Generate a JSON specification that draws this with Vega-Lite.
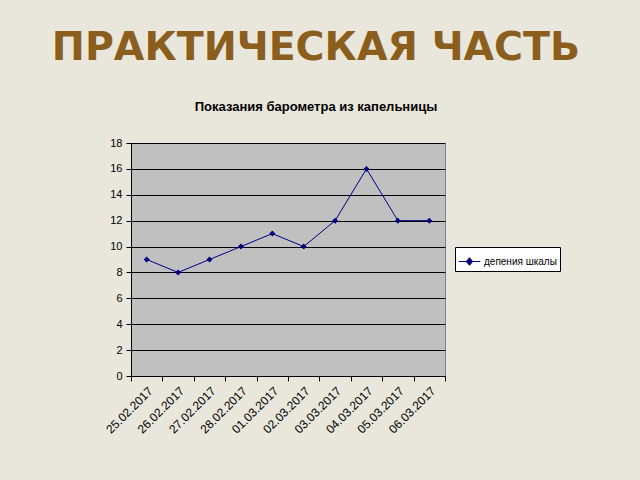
{
  "$schema": "https://vega.github.io/schema/vega-lite/v6.json",
  "autosize": {"type": "none"},
  "width": 314,
  "height": 233,
  "padding": {"left": 131, "top": 143, "right": 195, "bottom": 104},
  "background": "#E9E7DC",
  "title": {
    "text": "ПРАКТИЧЕСКАЯ ЧАСТЬ",
    "subtitle": "Показания барометра из капельницы",
    "anchor": "middle",
    "frame": "group",
    "dx": 28,
    "offset": 22,
    "font": "DejaVu Sans",
    "fontSize": 39.5,
    "fontWeight": "bold",
    "color": "#8B5E1E",
    "subtitleFont": "Liberation Sans",
    "subtitleFontSize": 13,
    "subtitleFontWeight": "bold",
    "subtitleColor": "#000000",
    "subtitlePadding": 33
  },
  "data": {
    "values": [
      {"date": "25.02.2017", "value": 9},
      {"date": "26.02.2017", "value": 8},
      {"date": "27.02.2017", "value": 9},
      {"date": "28.02.2017", "value": 10},
      {"date": "01.03.2017", "value": 11},
      {"date": "02.03.2017", "value": 10},
      {"date": "03.03.2017", "value": 12},
      {"date": "04.03.2017", "value": 16},
      {"date": "05.03.2017", "value": 12},
      {"date": "06.03.2017", "value": 12}
    ]
  },
  "mark": {
    "type": "line",
    "strokeWidth": 1,
    "point": {"shape": "diamond", "filled": true, "size": 36, "color": "#000080"}
  },
  "encoding": {
    "x": {
      "field": "date",
      "type": "ordinal",
      "sort": null,
      "scale": {"type": "band", "paddingInner": 0, "paddingOuter": 0},
      "axis": {
        "title": null,
        "labelAngle": -45,
        "labelFont": "Liberation Sans",
        "labelFontSize": 12,
        "labelColor": "#000000",
        "labelPadding": 4,
        "tickBand": "extent",
        "tickSize": 5,
        "tickColor": "#000000",
        "domainColor": "#000000",
        "grid": false
      }
    },
    "y": {
      "field": "value",
      "type": "quantitative",
      "scale": {"domain": [0, 18], "nice": false},
      "axis": {
        "title": null,
        "values": [0, 2, 4, 6, 8, 10, 12, 14, 16, 18],
        "labelFont": "Liberation Sans",
        "labelFontSize": 11,
        "labelColor": "#000000",
        "labelPadding": 4,
        "tickSize": 5,
        "tickColor": "#000000",
        "domainColor": "#000000",
        "grid": true,
        "gridColor": "#000000",
        "gridOpacity": 1,
        "gridWidth": 1
      }
    },
    "color": {
      "datum": "депения шкалы",
      "type": "nominal",
      "scale": {"range": ["#000080"]},
      "legend": {
        "title": null,
        "orient": "none",
        "legendX": 324,
        "legendY": 104,
        "fillColor": "#FFFFFF",
        "strokeColor": "#000000",
        "padding": 3,
        "labelFont": "Liberation Sans",
        "labelFontSize": 10,
        "labelColor": "#000000",
        "symbolType": "M-1,0H1M0,-0.35L0.3,0L0,0.35L-0.3,0Z",
        "symbolSize": 460,
        "symbolStrokeWidth": 1,
        "symbolFillColor": "#000080",
        "labelOffset": 3
      }
    }
  },
  "config": {
    "view": {"fill": "#C0C0C0", "stroke": "#808080", "strokeWidth": 1}
  }
}
